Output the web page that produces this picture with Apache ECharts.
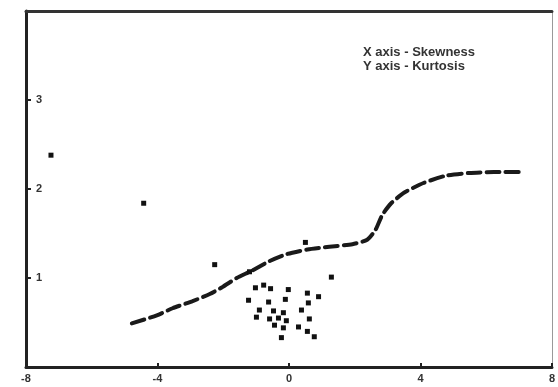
<!DOCTYPE html>
<html>
<head>
<meta charset="utf-8">
<script src="https://cdn.jsdelivr.net/npm/echarts@6/dist/echarts.min.js"></script>
<style>
  html, body { margin: 0; padding: 0; background: #fff; }
  #chart { width: 558px; height: 387px; }
</style>
</head>
<body>
<div id="chart"></div>
<script>
// skewness / kurtosis curve (dashed)
const curveX = [-4.78, -4.02, -3.54, -2.93, -2.41, -2.02, -1.59, -1.14, -0.59, -0.05, 0.56, 1.23, 1.93, 2.38, 2.63, 2.84, 3.11, 3.51, 4.11, 4.78, 5.48, 6.24, 7.00];
const curveY = [0.49, 0.58, 0.66, 0.74, 0.82, 0.90, 1.00, 1.08, 1.19, 1.27, 1.32, 1.35, 1.38, 1.43, 1.54, 1.71, 1.84, 1.96, 2.07, 2.15, 2.18, 2.19, 2.19];

// sample points
const pointX = [-7.24, -4.42, -2.26, -1.20, 0.50, 1.29, -1.02, -0.77, -0.56, -0.02, 0.56, 0.90, -1.23, -0.62, -0.11, 0.59, -0.90, -0.47, -0.17, 0.38, -0.99, -0.59, -0.32, -0.08, 0.62, -0.44, -0.17, 0.29, 0.56, -0.23, 0.77];
const pointY = [2.38, 1.84, 1.15, 1.07, 1.40, 1.01, 0.89, 0.92, 0.88, 0.87, 0.83, 0.79, 0.75, 0.73, 0.76, 0.72, 0.64, 0.63, 0.61, 0.64, 0.56, 0.54, 0.55, 0.52, 0.54, 0.47, 0.44, 0.45, 0.40, 0.33, 0.34];

const xTicks = [-8, -4, 0, 4, 8];
const yTicks = [1, 2, 3];

const legendLines = ['X axis - Skewness', 'Y axis - Kurtosis'];

const myChart = echarts.init(document.getElementById('chart'));

const option = {
    animation: false,
    backgroundColor: '#fff',
    grid: { left: 26, right: 5, top: 11, bottom: 20, containLabel: false },
    xAxis: [{
        type: 'value',
        min: -8, max: 8, interval: 4,
        axisLine: { onZero: false, lineStyle: { color: '#222', width: 3 } },
        axisTick: { inside: true, length: 4, lineStyle: { color: '#222', width: 2 } },
        axisLabel: {
            color: '#333', fontSize: 11, fontWeight: 'bold', margin: 6,
            fontFamily: 'Liberation Sans, Arial',
            formatter: v => xTicks.includes(v) ? String(v) : ''
        },
        splitLine: { show: false }
    }, {
        type: 'value',
        position: 'top',
        min: -8, max: 8,
        axisLine: { show: true, onZero: false, lineStyle: { color: '#333', width: 3 } },
        axisTick: { show: false },
        axisLabel: { show: false },
        splitLine: { show: false }
    }],
    yAxis: [{
        type: 'value',
        min: 0, max: 4, interval: 1,
        axisLine: { show: true, onZero: false, lineStyle: { color: '#222', width: 3 } },
        axisTick: { inside: true, length: 5, lineStyle: { color: '#222', width: 2 } },
        axisLabel: {
            inside: true, margin: 10,
            showMinLabel: false, showMaxLabel: false,
            color: '#333', fontSize: 11, fontWeight: 'bold',
            fontFamily: 'Liberation Sans, Arial',
            formatter: v => yTicks.includes(v) ? String(v) : ''
        },
        splitLine: { show: false }
    }, {
        type: 'value',
        position: 'right',
        min: 0, max: 4,
        axisLine: { show: true, onZero: false, lineStyle: { color: '#999', width: 1 } },
        axisTick: { show: false },
        axisLabel: { show: false },
        splitLine: { show: false }
    }],
    graphic: [{
        type: 'text',
        left: 363,
        top: 45,
        style: {
            text: legendLines.join('\n'),
            font: 'bold 13px "Liberation Sans", Arial',
            fill: '#333',
            lineHeight: 14
        }
    }],
    series: [{
        type: 'line',
        data: curveX.map((x, i) => [x, curveY[i]]),
        showSymbol: false,
        smooth: 0.2,
        lineStyle: { color: '#1a1a1a', width: 4, type: [13, 6], cap: 'round' },
        z: 2
    }, {
        type: 'scatter',
        data: pointX.map((x, i) => [x, pointY[i]]),
        symbol: 'rect',
        symbolSize: 5,
        itemStyle: { color: '#111', opacity: 1 },
        z: 3
    }]
};

myChart.setOption(option);
</script>
</body>
</html>
